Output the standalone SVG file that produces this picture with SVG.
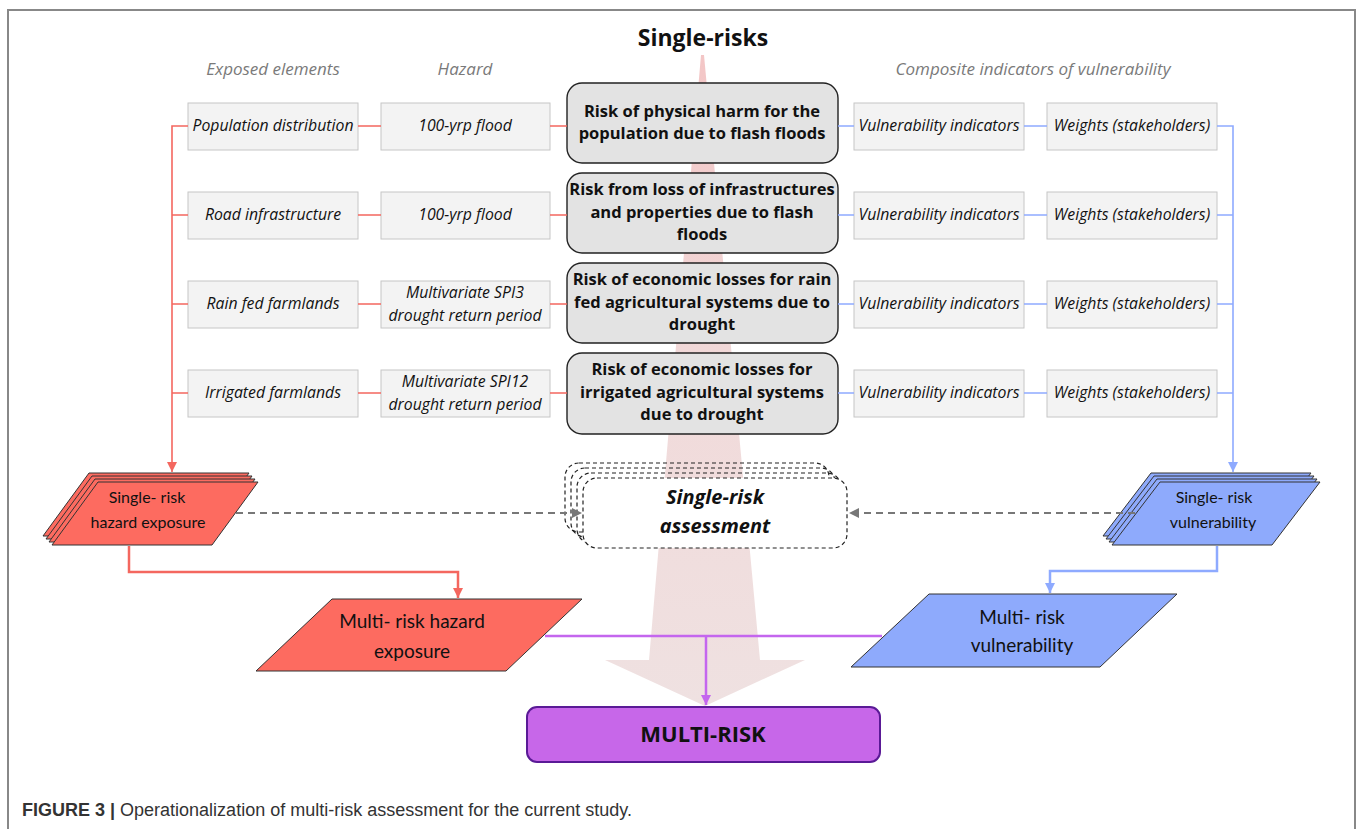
<svg xmlns="http://www.w3.org/2000/svg" width="1358" height="829" viewBox="0 0 1358 829">
<style>
.hdr{font-family:"Open Sans","Liberation Sans",sans-serif;font-style:italic;font-size:17px;fill:#7a7a7a;text-anchor:middle}
.sbox{fill:#f3f3f3;stroke:#c6c6c6;stroke-width:1}
.stxt{font-family:"Open Sans","Liberation Sans",sans-serif;font-style:italic;font-size:15.8px;fill:#111;text-anchor:middle}
.rbox{fill:#e3e3e3;stroke:#222;stroke-width:1.4}
.rtxt{font-family:"Open Sans","Liberation Sans",sans-serif;font-weight:bold;font-size:16.5px;fill:#111;text-anchor:middle}
.ptxt{font-family:Lato,"Liberation Sans",sans-serif;font-size:16px;fill:#111;text-anchor:middle}
.mtxt{font-family:Lato,"Liberation Sans",sans-serif;font-size:19px;fill:#111;text-anchor:middle}
.red{fill:#fd6b60;stroke:#333;stroke-width:1}
.blue{fill:#8eaafc;stroke:#333;stroke-width:1}
.rl{stroke:#f4675f;stroke-width:1.6;fill:none}
.bl{stroke:#8eaaff;stroke-width:1.6;fill:none}
.dash{stroke:#222;stroke-width:1.2;stroke-dasharray:4 3;fill:none}
.dashf{stroke:#222;stroke-width:1.2;stroke-dasharray:4 3;fill:#fff}
</style>
<defs>
<linearGradient id="bg" x1="0" y1="0" x2="0" y2="1">
<stop offset="0" stop-color="#f3c6c6"/>
<stop offset="0.5" stop-color="#f1dada"/>
<stop offset="1" stop-color="#efe1e1"/>
</linearGradient>
<marker id="ar" markerWidth="12" markerHeight="12" refX="10" refY="5" orient="auto" markerUnits="userSpaceOnUse"><path d="M0,0 L10,5 L0,10 z" fill="#f4675f"/></marker>
<marker id="ab" markerWidth="12" markerHeight="12" refX="10" refY="5" orient="auto" markerUnits="userSpaceOnUse"><path d="M0,0 L10,5 L0,10 z" fill="#8eaaff"/></marker>
<marker id="ap" markerWidth="12" markerHeight="12" refX="10" refY="5" orient="auto" markerUnits="userSpaceOnUse"><path d="M0,0 L10,5 L0,10 z" fill="#c466ee"/></marker>
<marker id="ag" markerWidth="12" markerHeight="12" refX="10" refY="5" orient="auto" markerUnits="userSpaceOnUse"><path d="M0,0 L10,5 L0,10 z" fill="#777"/></marker>
</defs>
<rect width="1358" height="829" fill="#fff"/>
<path d="M8,829 V10 H1355 V829" fill="none" stroke="#888" stroke-width="2"/>
<polygon points="701,55 704,55 760,660 805,660 705,706 605,660 649,660" fill="url(#bg)"/>
<text x="703" y="46" font-family="'Open Sans','Liberation Sans',sans-serif" font-weight="bold" font-size="23" text-anchor="middle" fill="#111">Single-risks</text>
<text class="hdr" x="273" y="75">Exposed elements</text>
<text class="hdr" x="465" y="75">Hazard</text>
<text class="hdr" x="1033" y="75">Composite indicators of vulnerability</text>
<g id="exp1"><rect class="sbox" x="188" y="103" width="170" height="47"/><text class="stxt" x="273" y="131">Population distribution</text></g>
<g id="exp2"><rect class="sbox" x="188" y="192" width="170" height="47"/><text class="stxt" x="273" y="220">Road infrastructure</text></g>
<g id="exp3"><rect class="sbox" x="188" y="281" width="170" height="47"/><text class="stxt" x="273" y="309">Rain fed farmlands</text></g>
<g id="exp4"><rect class="sbox" x="188" y="370" width="170" height="47"/><text class="stxt" x="273" y="398">Irrigated farmlands</text></g>
<g id="haz1"><rect class="sbox" x="381" y="103" width="169" height="47"/><text class="stxt" x="465" y="131">100-yrp flood</text></g>
<g id="haz2"><rect class="sbox" x="381" y="192" width="169" height="47"/><text class="stxt" x="465" y="220">100-yrp flood</text></g>
<g id="haz3"><rect class="sbox" x="381" y="281" width="169" height="47"/><text class="stxt" x="465" y="298">Multivariate SPI3</text><text class="stxt" x="465" y="321">drought return period</text></g>
<g id="haz4"><rect class="sbox" x="381" y="370" width="169" height="47"/><text class="stxt" x="465" y="387">Multivariate SPI12</text><text class="stxt" x="465" y="410">drought return period</text></g>
<g id="risk1"><rect class="rbox" x="567" y="83" width="271" height="80" rx="15"/><text class="rtxt" x="702" y="117">Risk of physical harm for the</text><text class="rtxt" x="702" y="139">population due to flash floods</text></g>
<g id="risk2"><rect class="rbox" x="567" y="173" width="271" height="80" rx="15"/><text class="rtxt" x="702" y="195">Risk from loss of infrastructures</text><text class="rtxt" x="702" y="218">and properties due to flash</text><text class="rtxt" x="702" y="240">floods</text></g>
<g id="risk3"><rect class="rbox" x="567" y="263" width="271" height="80" rx="15"/><text class="rtxt" x="702" y="285">Risk of economic losses for rain</text><text class="rtxt" x="702" y="308">fed agricultural systems due to</text><text class="rtxt" x="702" y="330">drought</text></g>
<g id="risk4"><rect class="rbox" x="567" y="353" width="271" height="81" rx="15"/><text class="rtxt" x="702" y="375">Risk of economic losses for</text><text class="rtxt" x="702" y="398">irrigated agricultural systems</text><text class="rtxt" x="702" y="420">due to drought</text></g>
<g id="vul1"><rect class="sbox" x="854" y="103" width="170" height="47"/><text class="stxt" x="939" y="131">Vulnerability indicators</text></g>
<g id="vul2"><rect class="sbox" x="854" y="192" width="170" height="47"/><text class="stxt" x="939" y="220">Vulnerability indicators</text></g>
<g id="vul3"><rect class="sbox" x="854" y="281" width="170" height="47"/><text class="stxt" x="939" y="309">Vulnerability indicators</text></g>
<g id="vul4"><rect class="sbox" x="854" y="370" width="170" height="47"/><text class="stxt" x="939" y="398">Vulnerability indicators</text></g>
<g id="w1"><rect class="sbox" x="1047" y="103" width="170" height="47"/><text class="stxt" x="1132" y="131">Weights (stakeholders)</text></g>
<g id="w2"><rect class="sbox" x="1047" y="192" width="170" height="47"/><text class="stxt" x="1132" y="220">Weights (stakeholders)</text></g>
<g id="w3"><rect class="sbox" x="1047" y="281" width="170" height="47"/><text class="stxt" x="1132" y="309">Weights (stakeholders)</text></g>
<g id="w4"><rect class="sbox" x="1047" y="370" width="170" height="47"/><text class="stxt" x="1132" y="398">Weights (stakeholders)</text></g>
<g id="srhe">
<polygon class="red" points="89,473 249,473 203,536 43,536"/>
<polygon class="red" points="92,476 252,476 206,539 46,539"/>
<polygon class="red" points="95,479 255,479 209,542 49,542"/>
<polygon class="red" points="98,482 258,482 212,545 52,545"/>
<text class="ptxt" x="147" y="503">Single- risk</text>
<text class="ptxt" x="148" y="528">hazard exposure</text>
</g>
<g id="srv">
<polygon class="blue" points="1151,473 1311,473 1263,536 1103,536"/>
<polygon class="blue" points="1154,476 1314,476 1266,539 1106,539"/>
<polygon class="blue" points="1157,479 1317,479 1269,542 1109,542"/>
<polygon class="blue" points="1160,482 1320,482 1272,545 1112,545"/>
<text class="ptxt" x="1214" y="503">Single- risk</text>
<text class="ptxt" x="1213" y="528">vulnerability</text>
</g>
<g id="sra">
<rect class="dash" x="565" y="463" width="264" height="69" rx="14"/>
<rect class="dash" x="571" y="468" width="264" height="69" rx="14"/>
<rect class="dash" x="577" y="473" width="264" height="70" rx="14"/>
<rect class="dashf" x="583" y="478" width="264" height="70" rx="14"/>
<text x="715" y="504" font-family="'Open Sans','Liberation Sans',sans-serif" font-weight="bold" font-style="italic" font-size="20" text-anchor="middle" fill="#111">Single-risk</text>
<text x="715" y="533" font-family="'Open Sans','Liberation Sans',sans-serif" font-weight="bold" font-style="italic" font-size="20" text-anchor="middle" fill="#111">assessment</text>
</g>
<g id="mrhe">
<polygon class="red" points="332,599 582,599 506,671 256,671"/>
<text class="mtxt" x="412" y="628">Multi- risk hazard</text>
<text class="mtxt" x="412" y="658">exposure</text>
</g>
<g id="mrv">
<polygon class="blue" points="929,594 1177,594 1100,667 851,667"/>
<text class="mtxt" x="1022" y="624">Multi- risk</text>
<text class="mtxt" x="1022" y="652">vulnerability</text>
</g>
<g id="multirisk">
<rect x="527" y="707" width="353" height="55" rx="10" fill="#c767e9" stroke="#5a1a96" stroke-width="2"/>
<text x="703" y="742" font-family="'Open Sans','Liberation Sans',sans-serif" font-weight="bold" font-size="22" text-anchor="middle" fill="#111">MULTI-RISK</text>
</g>
<g id="connectors">
<path class="rl" d="M188,126 H172 V472" marker-end="url(#ar)"/>
<path class="rl" d="M188,215 H172 M188,304 H172 M188,393 H172"/>
<path class="rl" d="M358,126 H381 M358,215 H381 M358,304 H381 M358,393 H381"/>
<path class="rl" d="M550,126 H567 M550,215 H567 M550,304 H567 M550,393 H567"/>
<path class="bl" d="M838,126 H854 M838,215 H854 M838,304 H854 M838,393 H854"/>
<path class="bl" d="M1024,126 H1047 M1024,215 H1047 M1024,304 H1047 M1024,393 H1047"/>
<path class="bl" d="M1217,126 H1233 V472" marker-end="url(#ab)"/>
<path class="bl" d="M1217,215 H1233 M1217,304 H1233 M1217,393 H1233"/>
<path d="M236,513 H582" stroke="#777" stroke-width="1.8" stroke-dasharray="7 5" fill="none" marker-end="url(#ag)"/>
<path d="M1135,513 H849" stroke="#777" stroke-width="1.8" stroke-dasharray="7 5" fill="none" marker-end="url(#ag)"/>
<path d="M129,546 V572 H458 V598" stroke="#f4675f" stroke-width="2.5" fill="none" marker-end="url(#ar)"/>
<path d="M1217,546 V571 H1050 V593" stroke="#8eaaff" stroke-width="2.5" fill="none" marker-end="url(#ab)"/>
<path d="M545,636 H882 M706,636 V705" stroke="#c466ee" stroke-width="2.5" fill="none"/>
<path d="M706,690 V705" stroke="#c466ee" stroke-width="2" marker-end="url(#ap)"/>
</g>
<text x="22" y="816" font-family="'Liberation Sans',Arial,sans-serif" font-size="18" fill="#333"><tspan font-weight="bold">FIGURE 3 |</tspan> Operationalization of multi-risk assessment for the current study.</text>
</svg>
